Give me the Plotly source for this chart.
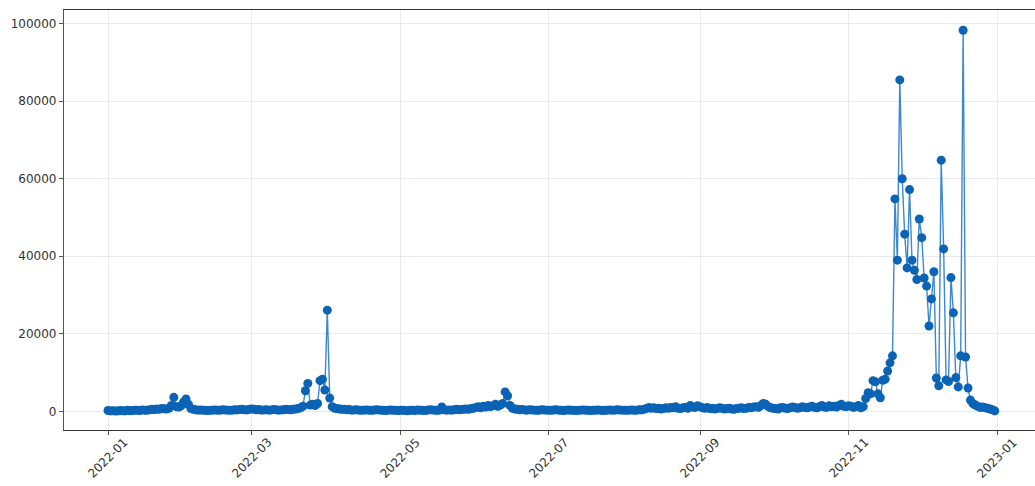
import pandas as pd
import plotly.graph_objects as go

# daily values, one list per month of 2022
jan = [200, 100, 150, 50, 100, 200, 150, 100, 250, 150, 200, 300, 250, 200, 350, 300,
       250, 400, 500, 450, 600, 500, 700, 650, 600, 800, 1500, 3600, 1200, 1100, 1400]
feb = [2400, 3200, 1800, 700, 500, 400, 300, 350, 250, 300, 200, 250, 300, 350, 250, 300,
       400, 350, 300, 250, 300, 400, 350, 450, 500, 400, 350, 500]
mar = [600, 500, 400, 450, 300, 350, 400, 300, 350, 450, 400, 300, 350, 400, 500, 450,
       400, 550, 600, 700, 900, 1300, 5300, 7200, 1600, 1800, 1500, 2000, 7900, 8300, 5500]
apr = [26100, 3400, 1200, 800, 700, 600, 500, 500, 400, 450, 300, 350, 400, 300, 250, 300,
       350, 300, 250, 300, 400, 350, 300, 250, 200, 300, 350, 250, 300, 200]
may = [250, 300, 200, 150, 250, 300, 200, 350, 300, 250, 200, 300, 400, 350, 300, 250,
       300, 1100, 400, 300, 350, 300, 400, 500, 400, 450, 500, 600, 500, 700, 800]
jun = [1000, 1200, 900, 1300, 1100, 1500, 1200, 1400, 1800, 1300, 1600, 2000, 5000, 4000,
       1500, 800, 600, 500, 400, 450, 350, 300, 400, 350, 300, 250, 300, 400, 350, 300]
jul = [300, 250, 350, 400, 300, 250, 200, 300, 350, 250, 300, 200, 250, 300, 350, 300,
       250, 200, 300, 250, 350, 300, 200, 250, 300, 350, 250, 300, 400, 350, 300]
aug = [300, 250, 300, 350, 250, 300, 400, 350, 500, 700, 1000, 800, 900, 700, 800, 600,
       700, 900, 800, 1000, 900, 1200, 800, 700, 900, 1000, 800, 1500, 1100, 1000, 1400]
sep = [1200, 900, 800, 1000, 700, 800, 600, 700, 900, 800, 600, 700, 800, 600, 500, 700,
       800, 900, 700, 800, 1000, 900, 1100, 1200, 1000, 1500, 2000, 1800, 1200, 900]
oct_ = [800, 700, 600, 900, 1000, 800, 700, 900, 1100, 1000, 800, 900, 1200, 1000, 900, 1100,
        1300, 1000, 900, 1200, 1500, 1100, 1000, 1400, 1200, 1300, 1100, 1500, 1800, 1300, 1200]
nov = [1400, 1300, 1000, 1200, 1500, 900, 1200, 3300, 4800, 4500, 7900, 7600, 4500, 3500,
       8000, 8300, 10400, 12500, 14300, 54800, 39000, 85500, 60000, 45700, 37000, 57200,
       39000, 36400, 34000, 49600]
dec = [44800, 34400, 32300, 22000, 29000, 36000, 8600, 6600, 64800, 41900, 8100, 7700,
       34500, 25400, 8700, 6300, 14300, 98300, 14000, 6000, 2900, 2000, 1600, 1300, 1000,
       1100, 900, 800, 600, 400, 100]

values = jan + feb + mar + apr + may + jun + jul + aug + sep + oct_ + nov + dec
dates = pd.date_range("2022-01-01", periods=len(values), freq="D")

tick_dates = ["2022-01-01", "2022-03-01", "2022-05-01", "2022-07-01",
              "2022-09-01", "2022-11-01", "2023-01-01"]
tick_labels = ["2022-01", "2022-03", "2022-05", "2022-07", "2022-09", "2022-11", "2023-01"]
y_ticks = [0, 20000, 40000, 60000, 80000, 100000]

fig = go.Figure()
fig.add_trace(go.Scatter(
    x=dates,
    y=values,
    mode="lines+markers",
    line=dict(color="#3f88cf", width=1.4),
    marker=dict(color="#0b63b6", size=9),
    showlegend=False
))

# rotated date labels centred on their ticks (matplotlib style)
for d, lab in zip(tick_dates, tick_labels):
    fig.add_annotation(
        x=d, y=-0.067, xref="x", yref="paper",
        text=lab, textangle=-45, showarrow=False,
        xanchor="center", yanchor="middle",
        font=dict(size=12, color="#333333")
    )

fig.update_layout(
    width=1035,
    height=486,
    margin=dict(l=64, r=0, t=10, b=56),
    paper_bgcolor="white",
    plot_bgcolor="white",
    font=dict(family="DejaVu Sans", size=12, color="#333333"),
    xaxis=dict(
        range=["2021-12-13 22:00", "2023-01-16 12:00"],
        tickvals=tick_dates,
        showticklabels=False,
        automargin=False,
        ticks="outside", ticklen=4, tickcolor="#555555",
        showgrid=True, gridcolor="#e8e8f0", gridwidth=1,
        showline=True, linecolor="#333333", linewidth=1.2, mirror=True,
        zeroline=False
    ),
    yaxis=dict(
        range=[-4825, 103535],
        tickvals=y_ticks,
        tickformat="d",
        automargin=False,
        ticks="outside", ticklen=4, tickcolor="#555555",
        showgrid=True, gridcolor="#e8e8f0", gridwidth=1,
        showline=True, linecolor="#555555", linewidth=1.2,
        zeroline=False
    )
)

# drop the browser's default 8px body margin so the figure fills the window
fig.write_html("out.html", config={"displayModeBar": False},
               post_script="document.body.style.margin='0';")
